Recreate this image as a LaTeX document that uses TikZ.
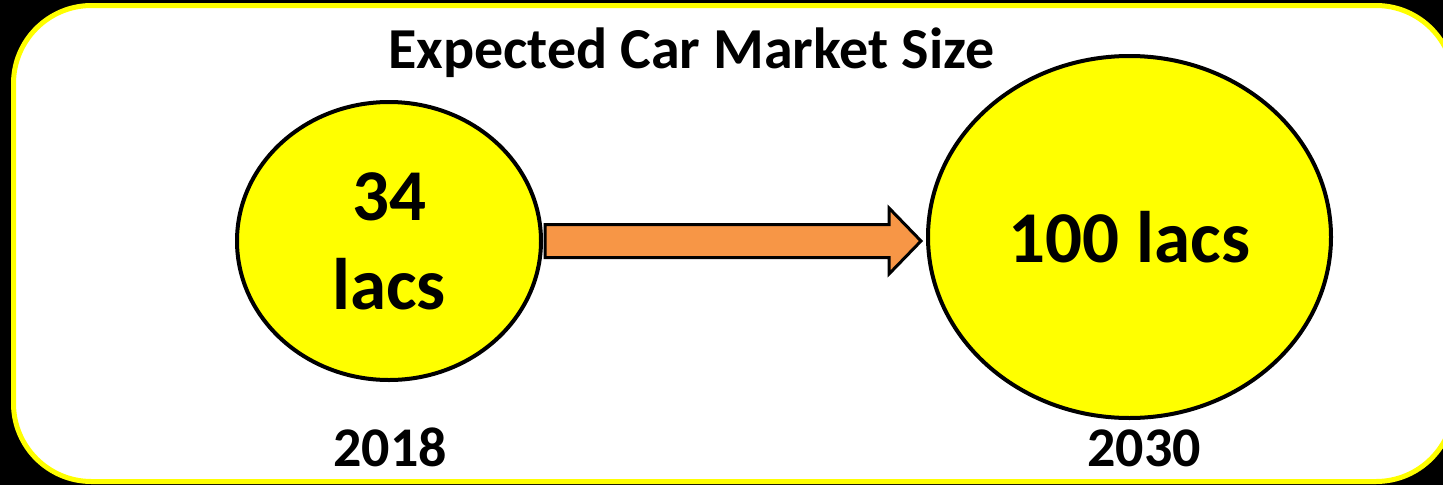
\documentclass[tikz,border=0pt]{standalone}
\usepackage{fontspec}
\setmainfont{Carlito}
\usetikzlibrary{shapes.geometric,calc}
\definecolor{officeorange}{RGB}{247,150,70}
\definecolor{pureyellow}{RGB}{255,255,0}
\tikzset{
  bubble/.style={ellipse, draw=black, line width=4pt, fill=pureyellow, inner sep=0pt,
    align=center, font=\fontsize{73}{89}\selectfont\bfseries},
  yearlabel/.style={anchor=base, font=\fontsize{56}{60}\selectfont\bfseries},
  titlelabel/.style={anchor=base, font=\fontsize{58}{62}\selectfont\bfseries},
  blockarrow/.style={draw=black, line width=3pt, fill=officeorange, line join=miter},
  frame/.style={draw=pureyellow, fill=white, line width=5pt, rounded corners=78pt}
}
\begin{document}
\begin{tikzpicture}[x=1pt,y=-1pt]
  \useasboundingbox (0,0) rectangle (1443,485);
  \fill[black] (0,0) rectangle (1443,485);
  \begin{scope}
    \clip (0,0) rectangle (1443,485);
    \draw[frame] (13.5,5.5) rectangle (1454,481.5);
  \end{scope}
  \node[titlelabel] (title) at (691.5,68) {Expected Car Market Size};
  \node[bubble, minimum width=304pt, minimum height=278pt] (e1) at (389,241) {34\\lacs};
  \node[bubble, minimum width=403pt, minimum height=362pt] (e2) at (1129.5,237) {100 lacs};
  \coordinate (s) at (e1.east);
  \coordinate (t) at (e2.west |- e1.east);
  \draw[blockarrow] ($(s)+(2,-16.5)$) -- ($(t)+(-37,-16.5)$) -- ($(t)+(-37,-33)$)
    -- ($(t)+(-5,0)$) -- ($(t)+(-37,33)$) -- ($(t)+(-37,16.5)$) -- ($(s)+(2,16.5)$) -- cycle;
  \node[yearlabel] (y1) at (390,466) {2018};
  \node[yearlabel] (y2) at (1144,466) {2030};
\end{tikzpicture}
\end{document}
